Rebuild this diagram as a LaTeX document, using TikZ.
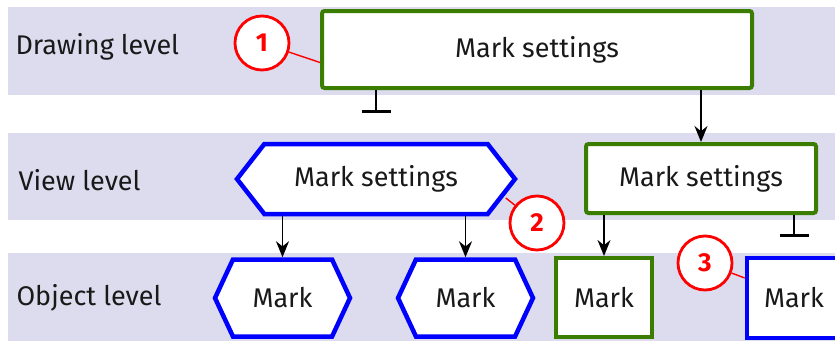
\documentclass[tikz,border=0pt]{standalone}
\usepackage{fontspec}
\setmainfont{Fira Sans}
\usetikzlibrary{shapes.symbols,arrows.meta}
\definecolor{bandblue}{RGB}{220,220,238}
\definecolor{levelgreen}{RGB}{58,125,0}
\definecolor{markblue}{RGB}{0,0,255}
\definecolor{notered}{RGB}{255,0,0}
\definecolor{labelgray}{RGB}{25,25,25}

\begin{document}
\begin{tikzpicture}[x=1pt, y=-1pt,
    every node/.style={font=\fontsize{27}{31}\selectfont, text=labelgray},
    greenbox/.style={draw=levelgreen, line width=4pt, fill=white, rounded corners=2.5pt, inner sep=0pt},
    bluehex/.style={draw=markblue, line width=4.5pt, fill=white, shape=signal, signal to=west and east, inner sep=0pt},
    bluebox/.style={draw=markblue, line width=4.5pt, fill=white, inner sep=0pt},
    callout/.style={circle, draw=notered, line width=2.8pt, fill=white, minimum size=54pt, inner sep=0pt, text=notered, font=\fontsize{26}{30}\selectfont\bfseries},
    calloutline/.style={draw=notered, line width=1.4pt},
    inherit/.style={-{Stealth[length=16pt,width=13pt]}, line width=1.8pt},
    block/.style={-{Bar[width=29pt,line width=3.5pt]}, line width=1.8pt}]
    \useasboundingbox (0,0) rectangle (835,340);

    % === Level bands ===
    \fill[bandblue] (8,7) rectangle (845,95);
    \fill[bandblue] (8,133) rectangle (845,220);
    \fill[bandblue] (8,253) rectangle (845,350);
    \node[anchor=west] (ldraw) at (12,47) {Drawing level};
    \node[anchor=west] (lview) at (15,180) {View level};
    \node[anchor=west] (lobj) at (13,298) {Object level};

    % === Settings and marks ===
    \node[greenbox, minimum width=430pt, minimum height=77pt] (dset) at (537,49.5) {Mark settings};
    \node[bluehex, minimum width=278pt, minimum height=70pt, signal pointer angle=104] (vhex) at (376,179) {Mark settings};
    \node[greenbox, minimum width=230pt, minimum height=69pt] (vset) at (701,178.5) {Mark settings};
    \node[bluehex, minimum width=135pt, minimum height=77pt, signal pointer angle=130] (ohexa) at (282.5,298) {Mark};
    \node[bluehex, minimum width=135pt, minimum height=77pt, signal pointer angle=130] (ohexb) at (465.5,298) {Mark};
    \node[greenbox, rounded corners=0pt, minimum width=96pt, minimum height=79pt] (omark) at (604,297.5) {Mark};
    \node[bluebox, minimum width=94pt, minimum height=80pt] (ofree) at (794,298) {Mark};

    % === Inheritance ===
    \coordinate (vstop) at (376,113);
    \coordinate (ostop) at (794,237);
    \draw[inherit] (dset.south -| vset) -- (vset.north);
    \draw[block] (dset.south -| vstop) -- (vstop);
    \draw[inherit] (vhex.south -| ohexa) -- (ohexa.north);
    \draw[inherit] (vhex.south -| ohexb) -- (ohexb.north);
    \draw[inherit] (vset.south -| omark) -- (omark.north);
    \draw[block] (vset.south -| ostop) -- (ostop);

    % === Callouts ===
    \node[callout] (c1) at (262,43) {1};
    \node[callout] (c2) at (537,223) {2};
    \node[callout] (c3) at (705,263) {3};
    \draw[calloutline] (c1) -- ([yshift=-13pt]dset.west);
    \draw[calloutline] (c2) -- ([shift={(-12pt,-19pt)}]vhex.east);
    \draw[calloutline] (c3) -- ([yshift=20pt]ofree.west);
\end{tikzpicture}
\end{document}
